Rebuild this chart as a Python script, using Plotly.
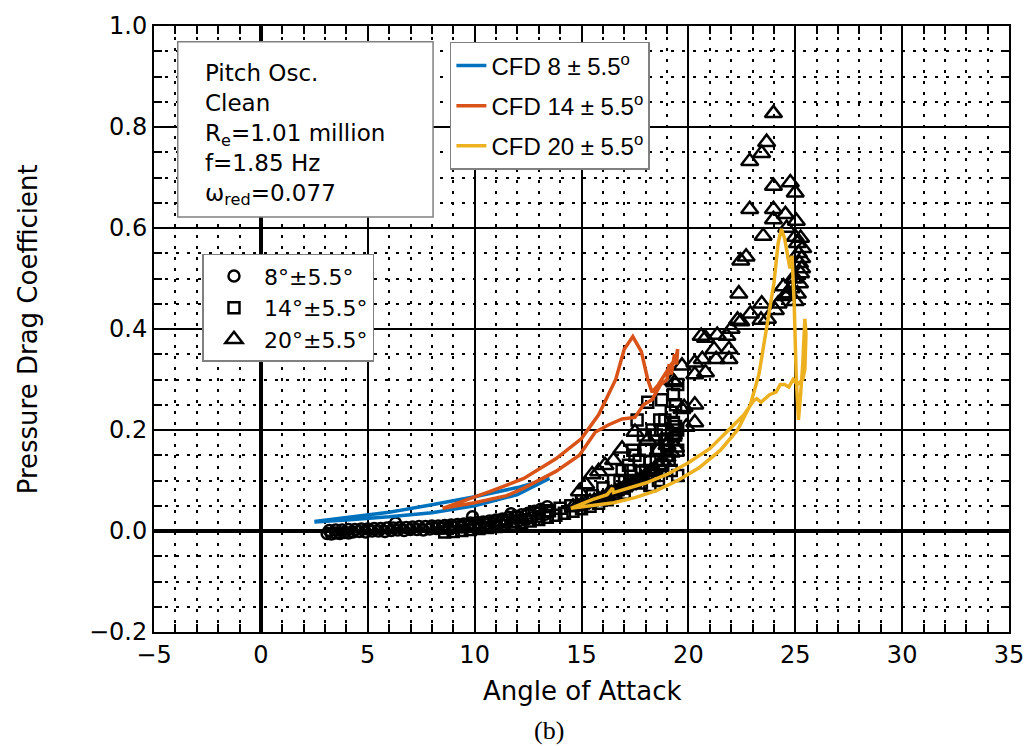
import plotly.graph_objects as go

# ---------------- data ----------------
# CFD hysteresis loops: angle of attack (deg) and pressure drag coefficient
cfd8_aoa = [2.5, 4.0, 6.0, 8.0, 10.0, 12.0, 13.5, 12.0, 10.0, 8.0, 6.0, 4.0, 2.5]
cfd8_cd = [0.019, 0.026, 0.037, 0.052, 0.068, 0.086, 0.104, 0.072, 0.050, 0.036, 0.028, 0.022, 0.018]

cfd14_aoa = [8.5, 10.0, 11.5, 12.3, 13.8, 14.9, 15.65, 16.25, 16.9, 17.5, 17.9, 18.3, 18.7, 19.0, 19.1,
             19.2, 19.35, 19.45, 19.5, 19.4, 19.2, 18.9, 18.6, 18.3, 18.1, 17.8, 17.4, 17.0, 16.6, 15.8,
             15.0, 13.8, 12.3, 10.7, 9.5, 8.5]
cfd14_cd = [0.045, 0.056, 0.070, 0.085, 0.118, 0.150, 0.196, 0.210, 0.222, 0.225, 0.250, 0.260, 0.290, 0.300, 0.330,
            0.310, 0.350, 0.330, 0.360, 0.340, 0.330, 0.310, 0.290, 0.275, 0.300, 0.355, 0.385, 0.360, 0.300, 0.230,
            0.183, 0.143, 0.104, 0.078, 0.060, 0.045]

cfd20_aoa = [14.5, 15.5, 16.5, 17.5, 18.5, 19.5, 20.5, 21.5, 22.3, 22.9, 23.3, 23.65, 24.0, 24.2, 24.35,
             24.5, 24.65, 24.75, 24.85, 24.95, 25.05, 25.15, 25.25, 25.35, 25.45, 25.5, 25.45, 25.35,
             25.1, 24.9, 24.7, 24.5, 24.3, 24.1, 23.8, 23.6, 23.4, 23.2, 23.05, 22.6, 21.8, 21.0, 20.0,
             19.0, 18.0, 17.0, 16.5, 16.45, 16.2, 15.5, 14.5]
cfd20_cd = [0.045, 0.050, 0.056, 0.066, 0.080, 0.100, 0.125, 0.160, 0.200, 0.250, 0.310, 0.400, 0.490, 0.570, 0.598,
            0.580, 0.540, 0.520, 0.545, 0.450, 0.300, 0.220, 0.270, 0.330, 0.420, 0.390, 0.320, 0.300,
            0.290, 0.300, 0.285, 0.290, 0.290, 0.275, 0.270, 0.262, 0.255, 0.262, 0.258, 0.230, 0.196, 0.163, 0.135,
            0.112, 0.095, 0.082, 0.076, 0.085, 0.072, 0.062, 0.045]

# Experiment 8 deg +/- 5.5 deg (circles)
circ_aoa = [3.1, 3.3, 3.5, 3.7, 3.9, 4.1, 4.3, 4.6, 4.9, 5.2, 5.5, 5.8, 6.1, 6.4, 6.7, 7.0, 7.3, 7.6, 7.9, 8.2,
            8.5, 8.8, 9.1, 9.4, 9.7, 10.0, 10.3, 10.6, 10.9, 11.2, 11.5, 11.8, 12.1, 12.4, 12.7, 13.0, 13.3, 13.5,
            13.4, 13.1, 12.8, 12.5, 12.2, 11.9, 11.6, 11.3, 11.0, 10.7, 10.4, 10.1, 9.8, 9.5, 9.2, 8.9, 8.6, 8.3,
            8.0, 7.7, 7.4, 7.1, 6.8, 6.5, 6.2, 5.9, 5.6, 5.3, 5.0, 4.7, 4.4, 4.1, 3.8, 3.5, 3.2,
            6.3, 9.9, 11.7]
circ_cd = [-0.005, -0.006, -0.004, -0.005, -0.003, -0.004, -0.002, -0.001, -0.002, 0.000, 0.000, -0.001, 0.001,
           0.002, 0.001, 0.003, 0.003, 0.002, 0.004, 0.005, 0.006, 0.005, 0.007, 0.008, 0.009, 0.010, 0.011,
           0.013, 0.014, 0.016, 0.017, 0.019, 0.021, 0.023, 0.026, 0.029, 0.033, 0.037,
           0.048, 0.043, 0.039, 0.035, 0.032, 0.029, 0.027, 0.024, 0.022, 0.020, 0.018, 0.017, 0.016, 0.014, 0.013,
           0.012, 0.011, 0.010, 0.010, 0.009, 0.009, 0.008, 0.007, 0.007, 0.006, 0.006, 0.005, 0.005, 0.004,
           0.004, 0.003, 0.003, 0.002, 0.002, 0.001,
           0.016, 0.028, 0.034]

# Experiment 14 deg +/- 5.5 deg (squares)
sq_aoa = [8.6, 9.0, 9.4, 9.8, 10.2, 10.6, 11.0, 11.4, 11.8, 12.2, 12.6, 13.0, 13.4, 13.8, 14.2, 14.6, 15.0, 15.4,
          15.8, 16.2, 16.6, 17.0, 17.4, 17.8, 18.2, 18.6, 19.0, 19.4,
          19.5, 19.3, 19.2, 18.75, 18.66, 18.1, 17.6, 17.9, 18.3, 18.9, 19.5, 19.5, 19.0, 18.5, 18.0, 17.5, 17.2,
          16.9, 16.5, 16.0, 15.5, 15.0, 14.5, 14.0, 13.5, 13.0, 12.5, 12.0, 11.5, 11.0, 10.5, 10.0, 9.5, 9.0, 8.6,
          19.3, 19.4, 19.0, 18.8, 19.2, 19.5, 18.4, 17.8, 18.2, 17.0, 19.4, 18.6,
          17.3, 17.7, 18.0, 18.5, 18.9, 19.1, 19.3, 16.8, 17.4, 18.7]
sq_cd = [-0.002, -0.001, 0.001, 0.003, 0.005, 0.007, 0.009, 0.011, 0.014, 0.017, 0.020, 0.023, 0.027, 0.031,
         0.035, 0.039, 0.044, 0.049, 0.055, 0.062, 0.072, 0.085, 0.100, 0.117, 0.137, 0.160, 0.182, 0.207,
         0.290, 0.270, 0.235, 0.260, 0.220, 0.255, 0.220, 0.190, 0.200, 0.180, 0.200, 0.160, 0.150, 0.140, 0.160,
         0.150, 0.130, 0.120, 0.100, 0.085, 0.070, 0.060, 0.050, 0.045, 0.040, 0.035, 0.030, 0.026, 0.022, 0.018,
         0.015, 0.012, 0.010, 0.008, 0.006,
         0.180, 0.190, 0.170, 0.130, 0.120, 0.110, 0.110, 0.095, 0.090, 0.075, 0.250, 0.100,
         0.120, 0.140, 0.120, 0.190, 0.220, 0.140, 0.215, 0.100, 0.160, 0.200]

# Experiment 20 deg +/- 5.5 deg (triangles)
tri_aoa = [14.6, 14.8, 15.0, 15.2, 15.4, 15.6, 15.8, 16.0, 16.2, 16.4, 16.6, 16.8, 17.0, 17.2, 17.4, 17.6, 17.8,
           18.0, 18.2, 18.4, 18.6, 18.8, 19.0, 19.2, 19.4,
           14.9, 15.2, 15.5, 15.8, 16.1, 16.5, 16.9, 17.5, 18.1, 18.6, 19.0, 19.3, 19.7, 19.8, 19.9, 20.3, 20.3,
           19.26, 19.35, 19.7, 20.3, 20.3, 20.6, 20.65, 20.8, 20.8, 21.2, 21.3, 21.35, 21.8, 21.9, 21.9, 22.0,
           22.3, 22.45, 22.9, 23.4, 23.43, 23.7, 24.07, 24.2, 24.45, 24.53, 24.6, 24.8, 25.0,
           22.36, 22.45, 22.7, 23.5, 22.87, 23.98, 24.54, 23.98, 25.05, 25.0, 23.98, 24.77, 25.0, 22.87, 23.43,
           23.66, 23.98,
           25.1, 25.15, 25.2, 25.25, 25.3, 25.2, 25.1, 25.3, 24.9, 25.0, 24.7, 25.25, 24.6, 25.35]
tri_cd = [0.048, 0.050, 0.052, 0.055, 0.058, 0.060, 0.063, 0.066, 0.070, 0.074, 0.078, 0.082, 0.086, 0.090, 0.095,
          0.100, 0.105, 0.110, 0.116, 0.122, 0.130, 0.138, 0.146, 0.155, 0.165,
          0.078, 0.092, 0.112, 0.118, 0.130, 0.140, 0.163, 0.196, 0.180, 0.160, 0.170, 0.190, 0.241, 0.245, 0.206,
          0.215, 0.250,
          0.298, 0.294, 0.327, 0.333, 0.310, 0.386, 0.340, 0.382, 0.314, 0.360, 0.340, 0.388, 0.386, 0.360, 0.340,
          0.400, 0.418, 0.415, 0.430, 0.418, 0.450, 0.420, 0.437, 0.450, 0.484, 0.465, 0.470, 0.480, 0.455,
          0.470, 0.535, 0.543, 0.584, 0.637, 0.637, 0.627, 0.617, 0.614, 0.582, 0.683, 0.690, 0.670, 0.732, 0.748,
          0.770, 0.827,
          0.570, 0.550, 0.530, 0.510, 0.520, 0.490, 0.470, 0.540, 0.500, 0.500, 0.470, 0.580, 0.600, 0.560]

exp_labels = ["8\u00b0\u00b15.5\u00b0", "14\u00b0\u00b15.5\u00b0", "20\u00b0\u00b15.5\u00b0"]
cfd_labels = ["CFD 8 \u00b1 5.5<sup>o</sup>", "CFD 14 \u00b1 5.5<sup>o</sup>", "CFD 20 \u00b1 5.5<sup>o</sup>"]
cfd_colors = ["#0072BD", "#D95319", "#EDB120"]
info_lines = ["Pitch Osc.", "Clean", "R<sub>e</sub>=1.01 million", "f=1.85 Hz", "\u03c9<sub>red</sub>=0.077"]

# ---------------- figure ----------------
fig = go.Figure()

exp_sets = [(circ_aoa, circ_cd, "circle-open", 11), (sq_aoa, sq_cd, "square-open", 11),
            (tri_aoa, tri_cd, "triangle-up-open", 15)]
for (xa, ya, sym, sz), lab in zip(exp_sets, exp_labels):
    fig.add_trace(go.Scatter(x=xa, y=ya, mode="markers", name=lab, legend="legend2",
                             marker=dict(symbol=sym, size=sz, color="black",
                                         line=dict(width=2.5, color="black"))))

cfd_sets = [(cfd8_aoa, cfd8_cd), (cfd14_aoa, cfd14_cd), (cfd20_aoa, cfd20_cd)]
for i, ((xa, ya), lab, col) in enumerate(zip(cfd_sets, cfd_labels, cfd_colors)):
    fig.add_trace(go.Scatter(x=xa, y=ya, mode="lines", name=lab, legend="legend", legendgroup="g%d" % i,
                             line=dict(color=col, width=3.5)))

tickfont = dict(family="DejaVu Sans", size=24, color="black")
common = dict(showgrid=True, gridcolor="black", gridwidth=2, zeroline=True, zerolinecolor="black",
              zerolinewidth=4, showline=True, linecolor="black", linewidth=2, mirror="allticks",
              ticks="inside", ticklen=10, tickwidth=2, tickcolor="black", tickfont=tickfont)

minor_common = dict(showgrid=True, gridcolor="black", gridwidth=1.5, griddash="3px,8px",
                    ticks="inside", ticklen=8, tickwidth=1.5, tickcolor="black")
fig.update_xaxes(range=[-5, 35], tick0=0, dtick=5, minor=dict(dtick=1, **minor_common), **common)
fig.update_yaxes(range=[-0.2, 1.0], tick0=0, dtick=0.2, tickformat=".1f",
                 minor=dict(dtick=0.05, **minor_common), **common)

L, R, T, B = 154, 18, 20, 114
W, H = 1036, 746
pw, ph = W - L - R, H - T - B


def px2paper(px, py):
    return (px - L) / pw, (H - B - py) / ph


annotations = []
# info box text (one block, left aligned)
ax, ay = px2paper(204, 52)
annotations.append(dict(x=ax, y=ay, xref="paper", yref="paper", text="<br>".join(info_lines),
                        showarrow=False, xanchor="left", yanchor="top", align="left",
                        font=dict(family="DejaVu Sans", size=23, color="black")))
# axis titles and caption
tx, ty = px2paper(27, 326)
annotations.append(dict(x=tx, y=ty, xref="paper", yref="paper", text="Pressure Drag Coefficient",
                        textangle=-90, showarrow=False, xanchor="center", yanchor="middle",
                        font=dict(family="DejaVu Sans", size=26, color="black")))
tx, ty = px2paper(587, 692)
annotations.append(dict(x=tx, y=ty, xref="paper", yref="paper", text="Angle of Attack",
                        showarrow=False, xanchor="center", yanchor="middle",
                        font=dict(family="DejaVu Sans", size=26, color="black")))
tx, ty = px2paper(553, 731)
annotations.append(dict(x=tx, y=ty, xref="paper", yref="paper", text="(b)",
                        showarrow=False, xanchor="center", yanchor="middle",
                        font=dict(family="Liberation Serif", size=26, color="black")))

bx0, by0 = px2paper(178, 213)
bx1, by1 = px2paper(436, 36)
shapes = [dict(type="rect", xref="paper", yref="paper", x0=bx0, y0=by0, x1=bx1, y1=by1,
               fillcolor="white", line=dict(color="#808080", width=1.5), layer="above")]

lx1, ly1 = px2paper(453, 36)
lx2, ly2 = px2paper(203, 250)

fig.update_layout(
    width=W, height=H, autosize=False,
    margin=dict(l=L, r=R, t=T, b=B),
    plot_bgcolor="white", paper_bgcolor="white",
    annotations=annotations, shapes=shapes,
    showlegend=True,
    legend=dict(x=lx1, y=ly1, xanchor="left", yanchor="top", bgcolor="white",
                bordercolor="#808080", borderwidth=1.5, traceorder="grouped", tracegroupgap=6,
                font=dict(family="Liberation Sans", size=24, color="black")),
    legend2=dict(x=lx2, y=ly2, xanchor="left", yanchor="top", bgcolor="white",
                 bordercolor="#808080", borderwidth=1.5, itemwidth=50,
                 font=dict(family="DejaVu Sans", size=22, color="black")),
)

fig.write_html("out.html")
